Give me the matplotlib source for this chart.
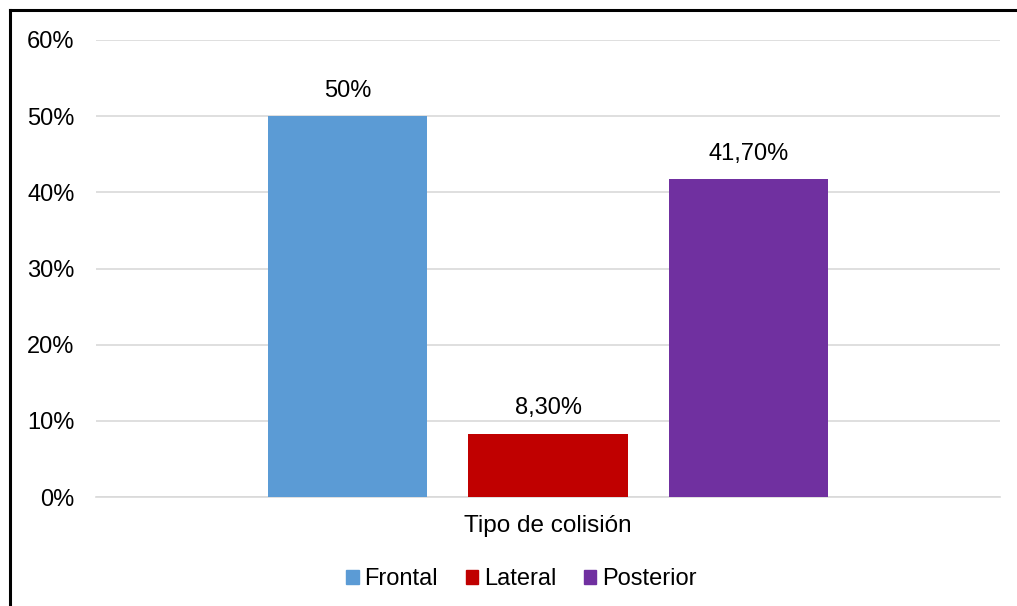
import matplotlib
matplotlib.use("Agg")
import matplotlib.pyplot as plt
from matplotlib.patches import Rectangle
from matplotlib.lines import Line2D
from matplotlib.ticker import FuncFormatter

plt.rcParams['font.family'] = ['Liberation Sans', 'DejaVu Sans']

category = "Tipo de colisión"
series = ["Frontal", "Lateral", "Posterior"]
values = [50.0, 8.3, 41.7]
value_labels = ["50%", "8,30%", "41,70%"]
colors = ["#5B9BD5", "#C00000", "#7030A0"]
yticks = [0, 10, 20, 30, 40, 50, 60]

W, H = 1017, 606
fig = plt.figure(figsize=(W / 100, H / 100), dpi=100)

# axes box in pixels: left 96, right 1000, top 40, bottom 497
ax = fig.add_axes([96 / W, 1 - 497 / H, (1000 - 96) / W, (497 - 40) / H])

FS = 17
group_center = 0.5
offset = 0.2218
width = 0.1759
for i, (name, v, lab, c) in enumerate(zip(series, values, value_labels, colors)):
    x = group_center + (i - 1) * offset
    ax.bar(x, v, width=width, color=c, zorder=3, label=name)
    ax.text(x, v + 1.9, lab, ha='center', va='bottom', fontsize=FS, color='#000000')

ax.set_xlim(0, 1)
ax.set_ylim(0, 60)
ax.set_yticks(yticks)
ax.yaxis.set_major_formatter(FuncFormatter(lambda v, p: f"{int(v)}%"))
ax.tick_params(axis='y', length=0, labelsize=FS, pad=15.5)
ax.set_xticks([])
ax.grid(axis='y', color='#D9D9D9', linewidth=1.2, zorder=0)
for s in ['top', 'right', 'left']:
    ax.spines[s].set_visible(False)
ax.spines['bottom'].set_color('#D9D9D9')
ax.spines['bottom'].set_linewidth(1.2)

ax.set_xlabel(category, fontsize=17.5, labelpad=13)

handles = [Rectangle((0, 0), 1, 1, color=c) for c in colors]
fig.legend(handles, series, loc='center', bbox_to_anchor=(521.5 / W, 1 - 579 / H),
           ncol=3, frameon=False, fontsize=FS, handlelength=0.52, handleheight=0.52,
           handletextpad=0.24, columnspacing=1.18)

# outer frame (left and top edges visible)
fig.add_artist(Line2D([9.5 / W, 9.5 / W], [0, 1 - 10 / H], color='black', linewidth=2.2,
                      transform=fig.transFigure))
fig.add_artist(Line2D([9.5 / W, 1], [1 - 10 / H, 1 - 10 / H], color='black', linewidth=2.2,
                      transform=fig.transFigure))

fig.savefig("out.png", dpi=100)
